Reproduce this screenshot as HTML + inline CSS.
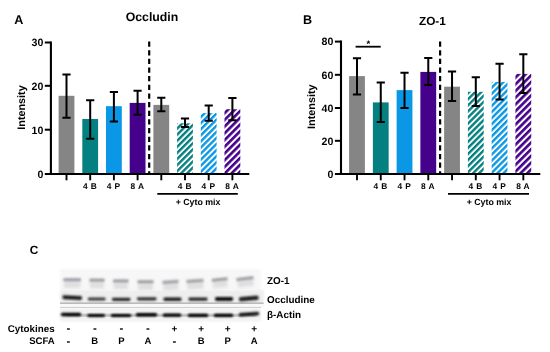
<!DOCTYPE html>
<html><head><meta charset="utf-8"><title>Figure</title>
<style>html,body{margin:0;padding:0;background:#fff}svg{display:block}text{font-family:"Liberation Sans",Arial,sans-serif;fill:#000;text-rendering:geometricPrecision}</style>
</head><body>
<svg width="550" height="352" viewBox="0 0 550 352">
<defs><pattern id="h5" width="4.3" height="4.3" patternUnits="userSpaceOnUse" patternTransform="rotate(-45)"><rect width="4.3" height="4.3" fill="#fff"/><rect width="4.3" height="2.4" fill="#048080"/></pattern><pattern id="h6" width="4.3" height="4.3" patternUnits="userSpaceOnUse" patternTransform="rotate(-45)"><rect width="4.3" height="4.3" fill="#fff"/><rect width="4.3" height="2.4" fill="#0a98e6"/></pattern><pattern id="h7" width="4.75" height="4.75" patternUnits="userSpaceOnUse" patternTransform="rotate(-45)"><rect width="4.75" height="4.75" fill="#fff"/><rect width="4.75" height="2.65" fill="#45008c"/></pattern><filter id="b1" x="-20%" y="-100%" width="140%" height="300%"><feGaussianBlur stdDeviation="1.1 0.9"/></filter><filter id="b2" x="-20%" y="-100%" width="140%" height="300%"><feGaussianBlur stdDeviation="1.2 0.8"/></filter><filter id="b0" x="-5%" y="-20%" width="110%" height="140%"><feGaussianBlur stdDeviation="0.8"/></filter><filter id="b3" x="-20%" y="-50%" width="140%" height="200%"><feGaussianBlur stdDeviation="1.6"/></filter></defs>
<rect width="550" height="352" fill="#fff"/>
<g><rect x="58.60" y="95.80" width="15.8" height="78.20" fill="#858585"/>
<rect x="82.30" y="119.00" width="15.8" height="55.00" fill="#048080"/>
<rect x="106.00" y="106.20" width="15.8" height="67.80" fill="#0a98e6"/>
<rect x="129.70" y="102.90" width="15.8" height="71.10" fill="#45008c"/>
<rect x="153.40" y="104.90" width="15.8" height="69.10" fill="#858585"/>
<rect x="177.10" y="123.30" width="15.8" height="50.70" fill="url(#h5)"/>
<rect x="200.80" y="113.10" width="15.8" height="60.90" fill="url(#h6)"/>
<rect x="224.50" y="109.20" width="15.8" height="64.80" fill="url(#h7)"/>
<line x1="149.2" y1="41.5" x2="149.2" y2="174" stroke="#000" stroke-width="2.2" stroke-dasharray="5.25 3.4"/>
<path d="M66.50 74.60V117.70M62.40 74.60h8.2M62.40 117.70h8.2" stroke="#000" stroke-width="2" fill="none"/>
<path d="M90.20 100.30V138.70M86.10 100.30h8.2M86.10 138.70h8.2" stroke="#000" stroke-width="2" fill="none"/>
<path d="M113.90 91.90V121.50M109.80 91.90h8.2M109.80 121.50h8.2" stroke="#000" stroke-width="2" fill="none"/>
<path d="M137.60 90.80V114.80M133.50 90.80h8.2M133.50 114.80h8.2" stroke="#000" stroke-width="2" fill="none"/>
<path d="M161.30 97.70V111.20M157.20 97.70h8.2M157.20 111.20h8.2" stroke="#000" stroke-width="2" fill="none"/>
<path d="M185.00 118.40V127.10M180.90 118.40h8.2M180.90 127.10h8.2" stroke="#000" stroke-width="2" fill="none"/>
<path d="M208.70 105.60V120.70M204.60 105.60h8.2M204.60 120.70h8.2" stroke="#000" stroke-width="2" fill="none"/>
<path d="M232.40 98.00V120.20M228.30 98.00h8.2M228.30 120.20h8.2" stroke="#000" stroke-width="2" fill="none"/>
<path d="M50.9 41.5V175M49.9 174H249.3" stroke="#000" stroke-width="2.1" fill="none"/>
<line x1="44.80" y1="42.5" x2="50.9" y2="42.5" stroke="#000" stroke-width="2"/>
<text x="43.30" y="46.3" text-anchor="end" font-size="10.6" font-weight="bold">30</text>
<line x1="44.80" y1="85.8" x2="50.9" y2="85.8" stroke="#000" stroke-width="2"/>
<text x="43.30" y="89.6" text-anchor="end" font-size="10.6" font-weight="bold">20</text>
<line x1="44.80" y1="129.7" x2="50.9" y2="129.7" stroke="#000" stroke-width="2"/>
<text x="43.30" y="133.5" text-anchor="end" font-size="10.6" font-weight="bold">10</text>
<line x1="44.80" y1="174" x2="50.9" y2="174" stroke="#000" stroke-width="2"/>
<text x="43.30" y="177.8" text-anchor="end" font-size="10.6" font-weight="bold">0</text>
<line x1="66.50" y1="174" x2="66.50" y2="180.3" stroke="#000" stroke-width="1.9"/>
<line x1="90.20" y1="174" x2="90.20" y2="180.3" stroke="#000" stroke-width="1.9"/>
<line x1="113.90" y1="174" x2="113.90" y2="180.3" stroke="#000" stroke-width="1.9"/>
<line x1="137.60" y1="174" x2="137.60" y2="180.3" stroke="#000" stroke-width="1.9"/>
<line x1="161.30" y1="174" x2="161.30" y2="180.3" stroke="#000" stroke-width="1.9"/>
<line x1="185.00" y1="174" x2="185.00" y2="180.3" stroke="#000" stroke-width="1.9"/>
<line x1="208.70" y1="174" x2="208.70" y2="180.3" stroke="#000" stroke-width="1.9"/>
<line x1="232.40" y1="174" x2="232.40" y2="180.3" stroke="#000" stroke-width="1.9"/>
<text x="89.80" y="188.9" text-anchor="middle" font-size="8.4" font-weight="bold" word-spacing="0.8">4 B</text>
<text x="113.50" y="188.9" text-anchor="middle" font-size="8.4" font-weight="bold" word-spacing="0.8">4 P</text>
<text x="137.20" y="188.9" text-anchor="middle" font-size="8.4" font-weight="bold" word-spacing="0.8">8 A</text>
<text x="184.60" y="188.9" text-anchor="middle" font-size="8.4" font-weight="bold" word-spacing="0.8">4 B</text>
<text x="208.30" y="188.9" text-anchor="middle" font-size="8.4" font-weight="bold" word-spacing="0.8">4 P</text>
<text x="232.00" y="188.9" text-anchor="middle" font-size="8.4" font-weight="bold" word-spacing="0.8">8 A</text>
<line x1="157.3" y1="193.8" x2="237.8" y2="193.8" stroke="#000" stroke-width="1.8"/>
<text x="198" y="204.7" text-anchor="middle" font-size="8.8" font-weight="bold">+ Cyto mix</text>
<text x="152" y="21.4" text-anchor="middle" font-size="12.3" font-weight="bold">Occludin</text>
<text x="14.2" y="24.3" font-size="12.6" font-weight="bold">A</text>
<text transform="translate(25.30,107.5) rotate(-90)" text-anchor="middle" font-size="10.8" font-weight="bold">Intensity</text></g>
<g><rect x="349.10" y="76.10" width="15.8" height="97.90" fill="#858585"/>
<rect x="372.86" y="102.40" width="15.8" height="71.60" fill="#048080"/>
<rect x="396.62" y="90.10" width="15.8" height="83.90" fill="#0a98e6"/>
<rect x="420.38" y="71.90" width="15.8" height="102.10" fill="#45008c"/>
<rect x="444.14" y="86.70" width="15.8" height="87.30" fill="#858585"/>
<rect x="467.90" y="91.80" width="15.8" height="82.20" fill="url(#h5)"/>
<rect x="491.66" y="81.90" width="15.8" height="92.10" fill="url(#h6)"/>
<rect x="515.42" y="73.90" width="15.8" height="100.10" fill="url(#h7)"/>
<line x1="440.1" y1="41.5" x2="440.1" y2="174" stroke="#000" stroke-width="2.2" stroke-dasharray="5.25 3.4"/>
<path d="M357.00 58.30V94.50M352.90 58.30h8.2M352.90 94.50h8.2" stroke="#000" stroke-width="2" fill="none"/>
<path d="M380.76 82.50V122.00M376.66 82.50h8.2M376.66 122.00h8.2" stroke="#000" stroke-width="2" fill="none"/>
<path d="M404.52 72.80V108.00M400.42 72.80h8.2M400.42 108.00h8.2" stroke="#000" stroke-width="2" fill="none"/>
<path d="M428.28 57.90V84.90M424.18 57.90h8.2M424.18 84.90h8.2" stroke="#000" stroke-width="2" fill="none"/>
<path d="M452.04 71.60V101.00M447.94 71.60h8.2M447.94 101.00h8.2" stroke="#000" stroke-width="2" fill="none"/>
<path d="M475.80 77.30V105.90M471.70 77.30h8.2M471.70 105.90h8.2" stroke="#000" stroke-width="2" fill="none"/>
<path d="M499.56 63.70V99.50M495.46 63.70h8.2M495.46 99.50h8.2" stroke="#000" stroke-width="2" fill="none"/>
<path d="M523.32 54.30V93.10M519.22 54.30h8.2M519.22 93.10h8.2" stroke="#000" stroke-width="2" fill="none"/>
<path d="M341.0 40.6V175M340.0 174H540.3" stroke="#000" stroke-width="2.1" fill="none"/>
<line x1="334.90" y1="41.6" x2="341.0" y2="41.6" stroke="#000" stroke-width="2"/>
<text x="333.40" y="45.4" text-anchor="end" font-size="10.6" font-weight="bold">80</text>
<line x1="334.90" y1="74.8" x2="341.0" y2="74.8" stroke="#000" stroke-width="2"/>
<text x="333.40" y="78.6" text-anchor="end" font-size="10.6" font-weight="bold">60</text>
<line x1="334.90" y1="108" x2="341.0" y2="108" stroke="#000" stroke-width="2"/>
<text x="333.40" y="111.8" text-anchor="end" font-size="10.6" font-weight="bold">40</text>
<line x1="334.90" y1="140.8" x2="341.0" y2="140.8" stroke="#000" stroke-width="2"/>
<text x="333.40" y="144.60000000000002" text-anchor="end" font-size="10.6" font-weight="bold">20</text>
<line x1="334.90" y1="174" x2="341.0" y2="174" stroke="#000" stroke-width="2"/>
<text x="333.40" y="177.8" text-anchor="end" font-size="10.6" font-weight="bold">0</text>
<line x1="357.00" y1="174" x2="357.00" y2="180.3" stroke="#000" stroke-width="1.9"/>
<line x1="380.76" y1="174" x2="380.76" y2="180.3" stroke="#000" stroke-width="1.9"/>
<line x1="404.52" y1="174" x2="404.52" y2="180.3" stroke="#000" stroke-width="1.9"/>
<line x1="428.28" y1="174" x2="428.28" y2="180.3" stroke="#000" stroke-width="1.9"/>
<line x1="452.04" y1="174" x2="452.04" y2="180.3" stroke="#000" stroke-width="1.9"/>
<line x1="475.80" y1="174" x2="475.80" y2="180.3" stroke="#000" stroke-width="1.9"/>
<line x1="499.56" y1="174" x2="499.56" y2="180.3" stroke="#000" stroke-width="1.9"/>
<line x1="523.32" y1="174" x2="523.32" y2="180.3" stroke="#000" stroke-width="1.9"/>
<text x="380.36" y="188.9" text-anchor="middle" font-size="8.4" font-weight="bold" word-spacing="0.8">4 B</text>
<text x="404.12" y="188.9" text-anchor="middle" font-size="8.4" font-weight="bold" word-spacing="0.8">4 P</text>
<text x="427.88" y="188.9" text-anchor="middle" font-size="8.4" font-weight="bold" word-spacing="0.8">8 A</text>
<text x="475.40" y="188.9" text-anchor="middle" font-size="8.4" font-weight="bold" word-spacing="0.8">4 B</text>
<text x="499.16" y="188.9" text-anchor="middle" font-size="8.4" font-weight="bold" word-spacing="0.8">4 P</text>
<text x="522.92" y="188.9" text-anchor="middle" font-size="8.4" font-weight="bold" word-spacing="0.8">8 A</text>
<line x1="448" y1="193.8" x2="529" y2="193.8" stroke="#000" stroke-width="1.8"/>
<text x="489" y="204.7" text-anchor="middle" font-size="8.8" font-weight="bold">+ Cyto mix</text>
<text x="432.4" y="24.9" text-anchor="middle" font-size="11.8" font-weight="bold">ZO-1</text>
<text x="303.1" y="24.3" font-size="12.6" font-weight="bold">B</text>
<text transform="translate(315.40,106.7) rotate(-90)" text-anchor="middle" font-size="10.8" font-weight="bold">Intensity</text>
<line x1="355.6" y1="46.7" x2="380.7" y2="46.7" stroke="#000" stroke-width="1.8"/>
<text x="368.4" y="47.3" text-anchor="middle" font-size="9.6" font-weight="bold">*</text></g>
<g><rect x="60" y="269" width="200.5" height="21" fill="#f7f7f7" filter="url(#b0)"/>
<rect x="60" y="290" width="204" height="13.2" fill="#eeeeee" filter="url(#b0)"/>
<rect x="60" y="302.7" width="203.5" height="1" fill="#7a7a7a"/>
<rect x="60" y="303.7" width="203.5" height="3.3" fill="#f8f8f8"/>
<rect x="60" y="307" width="201" height="0.9" fill="#b4b4b4"/>
<rect x="60" y="307.9" width="201" height="13.6" fill="#f3f3f3" filter="url(#b0)"/>
<rect x="64.0" y="281.8" width="16.4" height="6" fill="#dedede" filter="url(#b3)" transform="rotate(0 72.2 279.8)"/>
<rect x="63.5" y="278.2" width="17.4" height="3.2" fill="#9c9ca3" filter="url(#b1)" transform="rotate(0 72.2 279.8)"/>
<rect x="90.0" y="282.2" width="14.0" height="6" fill="#dedede" filter="url(#b3)" transform="rotate(0 97.0 280.2)"/>
<rect x="89.5" y="278.6" width="15.0" height="3.2" fill="#9c9ca3" filter="url(#b1)" transform="rotate(0 97.0 280.2)"/>
<rect x="113.6" y="283.0" width="14.4" height="6" fill="#dedede" filter="url(#b3)" transform="rotate(0 120.8 281)"/>
<rect x="113.1" y="279.4" width="15.4" height="3.2" fill="#9c9ca3" filter="url(#b1)" transform="rotate(0 120.8 281)"/>
<rect x="138.0" y="283.8" width="15.0" height="6" fill="#dedede" filter="url(#b3)" transform="rotate(0 145.5 281.8)"/>
<rect x="137.5" y="280.2" width="16.0" height="3.2" fill="#9c9ca3" filter="url(#b1)" transform="rotate(0 145.5 281.8)"/>
<rect x="163.0" y="284.0" width="15.0" height="6" fill="#dedede" filter="url(#b3)" transform="rotate(-4 170.5 282)"/>
<rect x="162.5" y="280.4" width="16.0" height="3.2" fill="#9c9ca3" filter="url(#b1)" transform="rotate(-4 170.5 282)"/>
<rect x="187.0" y="283.0" width="16.0" height="6" fill="#dedede" filter="url(#b3)" transform="rotate(-4 195.0 281)"/>
<rect x="186.5" y="279.4" width="17.0" height="3.2" fill="#9c9ca3" filter="url(#b1)" transform="rotate(-4 195.0 281)"/>
<rect x="212.4" y="281.6" width="14.6" height="6" fill="#dedede" filter="url(#b3)" transform="rotate(-6 219.7 279.6)"/>
<rect x="211.9" y="278.0" width="15.6" height="3.2" fill="#9c9ca3" filter="url(#b1)" transform="rotate(-6 219.7 279.6)"/>
<rect x="237.0" y="280.7" width="16.0" height="6" fill="#dedede" filter="url(#b3)" transform="rotate(-7 245.0 278.7)"/>
<rect x="236.5" y="277.1" width="17.0" height="3.2" fill="#9c9ca3" filter="url(#b1)" transform="rotate(-7 245.0 278.7)"/>
<rect x="62.5" y="295.8" width="19.5" height="3.6" rx="1.3" fill="#0c0c0c" filter="url(#b2)" transform="rotate(3 72.2 297.6)"/>
<rect x="87.9" y="297.5" width="17.6" height="3.0" rx="1.3" fill="#363636" filter="url(#b2)" transform="rotate(0 96.7 299.0)"/>
<rect x="112.0" y="297.8" width="18.5" height="3.1" rx="1.3" fill="#282828" filter="url(#b2)" transform="rotate(0 121.2 299.3)"/>
<rect x="137.0" y="297.3" width="19.5" height="3.1" rx="1.3" fill="#2c2c2c" filter="url(#b2)" transform="rotate(0 146.8 298.9)"/>
<rect x="163.5" y="297.6" width="18.0" height="3.4" rx="1.3" fill="#1c1c1c" filter="url(#b2)" transform="rotate(0 172.5 299.3)"/>
<rect x="188.5" y="297.5" width="19.0" height="3.2" rx="1.3" fill="#242424" filter="url(#b2)" transform="rotate(0 198.0 299.1)"/>
<rect x="215.1" y="296.9" width="17.9" height="4.0" rx="1.3" fill="#101010" filter="url(#b2)" transform="rotate(0 224.1 298.9)"/>
<rect x="239.1" y="296.6" width="19.4" height="4.0" rx="1.3" fill="#0a0a0a" filter="url(#b2)" transform="rotate(-5 248.8 298.6)"/>
<rect x="66" y="314.9" width="190" height="1.0" fill="#555" filter="url(#b2)"/>
<rect x="60.8" y="312.84" width="20.4" height="3.52" rx="1.76" fill="#060606" filter="url(#b2)" transform="rotate(0 71.0 314.6)"/>
<rect x="87.3" y="314.06" width="17.7" height="2.88" rx="1.44" fill="#060606" filter="url(#b2)" transform="rotate(0 96.2 315.5)"/>
<rect x="110.8" y="313.90" width="20.4" height="3.20" rx="1.60" fill="#060606" filter="url(#b2)" transform="rotate(0 121.0 315.5)"/>
<rect x="135.8" y="313.04" width="21.4" height="3.52" rx="1.76" fill="#060606" filter="url(#b2)" transform="rotate(0 146.5 314.8)"/>
<rect x="162.8" y="313.60" width="18.4" height="3.20" rx="1.60" fill="#060606" filter="url(#b2)" transform="rotate(0 172.0 315.2)"/>
<rect x="187.8" y="313.80" width="20.4" height="3.20" rx="1.60" fill="#060606" filter="url(#b2)" transform="rotate(0 198.0 315.4)"/>
<rect x="213.8" y="313.80" width="19.4" height="3.20" rx="1.60" fill="#060606" filter="url(#b2)" transform="rotate(0 223.5 315.4)"/>
<rect x="238.8" y="312.60" width="20.4" height="3.20" rx="1.60" fill="#060606" filter="url(#b2)" transform="rotate(-4 249.0 314.2)"/>
<text x="267" y="284.1" font-size="9.9" font-weight="bold">ZO-1</text>
<text x="267" y="303.2" font-size="9.9" font-weight="bold">Occludine</text>
<text x="267" y="317.6" font-size="9.9" font-weight="bold">β-Actin</text>
<text x="54.6" y="332" text-anchor="end" font-size="9.8" font-weight="bold">Cytokines</text>
<text x="54.8" y="344.1" text-anchor="end" font-size="9.6" font-weight="bold">SCFA</text>
<text x="68.3" y="332.4" text-anchor="middle" font-size="11.5" font-weight="bold">-</text>
<text x="68.3" y="344.6" text-anchor="middle" font-size="11.5" font-weight="bold">-</text>
<text x="94.8" y="332.4" text-anchor="middle" font-size="11.5" font-weight="bold">-</text>
<text x="94.8" y="344.0" text-anchor="middle" font-size="9.5" font-weight="bold">B</text>
<text x="121.4" y="332.4" text-anchor="middle" font-size="11.5" font-weight="bold">-</text>
<text x="121.4" y="344.0" text-anchor="middle" font-size="9.5" font-weight="bold">P</text>
<text x="147.9" y="332.4" text-anchor="middle" font-size="11.5" font-weight="bold">-</text>
<text x="147.9" y="344.0" text-anchor="middle" font-size="9.5" font-weight="bold">A</text>
<text x="174.5" y="332.2" text-anchor="middle" font-size="10" font-weight="bold">+</text>
<text x="174.5" y="344.6" text-anchor="middle" font-size="11.5" font-weight="bold">-</text>
<text x="201.1" y="332.2" text-anchor="middle" font-size="10" font-weight="bold">+</text>
<text x="201.1" y="344.0" text-anchor="middle" font-size="9.5" font-weight="bold">B</text>
<text x="227.6" y="332.2" text-anchor="middle" font-size="10" font-weight="bold">+</text>
<text x="227.6" y="344.0" text-anchor="middle" font-size="9.5" font-weight="bold">P</text>
<text x="254.1" y="332.2" text-anchor="middle" font-size="10" font-weight="bold">+</text>
<text x="254.1" y="344.0" text-anchor="middle" font-size="9.5" font-weight="bold">A</text>
<text x="29.8" y="253.7" font-size="11.8" font-weight="bold">C</text></g>
</svg>
</body></html>
